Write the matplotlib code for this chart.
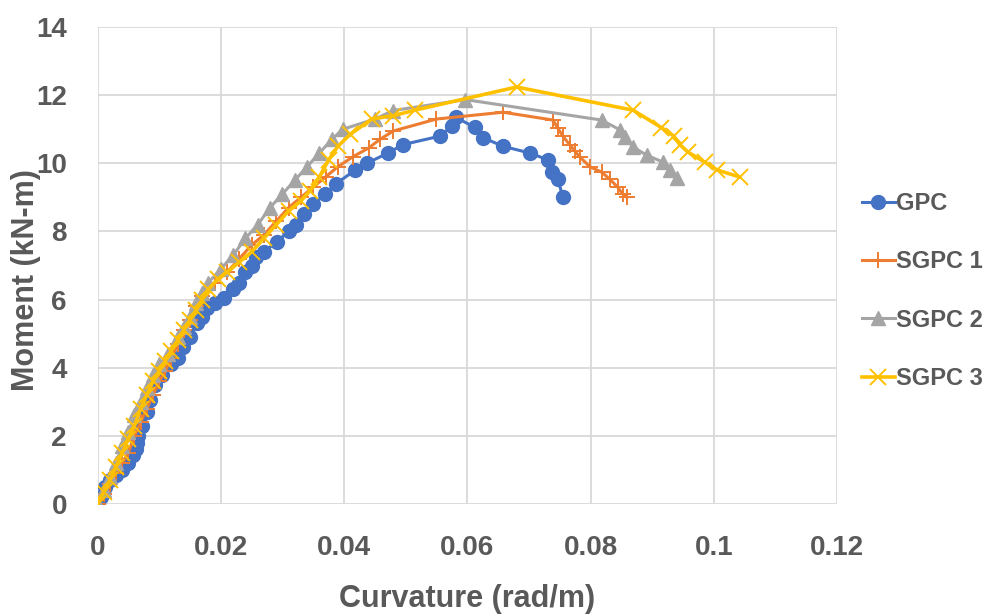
import matplotlib
matplotlib.use("Agg")
import matplotlib.pyplot as plt

plt.rcParams['font.family'] = ['Liberation Sans', 'DejaVu Sans']

# ---- data ----
gpc_x = [0, 0.0005, 0.0012, 0.002, 0.003, 0.004, 0.005, 0.0058, 0.0062, 0.0064, 0.0065,
         0.0072, 0.008, 0.0085, 0.0093, 0.0105, 0.012, 0.013, 0.0139, 0.015, 0.0161,
         0.017, 0.0178, 0.019, 0.0205, 0.022, 0.023, 0.0239, 0.025, 0.0257, 0.027,
         0.0291, 0.031, 0.0322, 0.0335, 0.035, 0.0369, 0.0387, 0.0418, 0.0437, 0.0471,
         0.0496, 0.0556, 0.0575, 0.0581, 0.0612, 0.0626, 0.0658, 0.0702, 0.0731,
         0.0737, 0.0747, 0.0755]
gpc_y = [0, 0.2, 0.5, 0.7, 0.85, 1.0, 1.2, 1.45, 1.6, 1.8, 2.0,
         2.3, 2.7, 3.05, 3.5, 3.8, 4.1, 4.3, 4.6, 4.9, 5.3,
         5.5, 5.75, 5.9, 6.05, 6.3, 6.5, 6.8, 7.0, 7.25, 7.4,
         7.7, 8.0, 8.2, 8.5, 8.8, 9.1, 9.4, 9.8, 10.0, 10.3,
         10.55, 10.8, 11.1, 11.35, 11.06, 10.75, 10.5, 10.3, 10.1,
         9.75, 9.55, 9.0]

sg1_x = [0, 0.001, 0.002, 0.003, 0.004, 0.005, 0.006, 0.007, 0.008, 0.009, 0.010,
         0.011, 0.012, 0.013, 0.014, 0.015, 0.016, 0.017, 0.019, 0.021, 0.023,
         0.025, 0.027, 0.029, 0.031, 0.033, 0.035, 0.037, 0.039, 0.0415, 0.044,
         0.0458, 0.048, 0.055, 0.0658, 0.0739, 0.0747, 0.0755, 0.0766, 0.0774,
         0.0783, 0.0799, 0.0818, 0.0831, 0.0844, 0.0852, 0.0859]
sg1_y = [0, 0.3, 0.6, 0.9, 1.2, 1.5, 2.0, 2.4, 2.8, 3.2, 3.6,
         3.9, 4.3, 4.7, 5.1, 5.4, 5.8, 6.1, 6.5, 6.8, 7.2,
         7.6, 7.9, 8.3, 8.7, 9.0, 9.3, 9.6, 9.9, 10.2, 10.45,
         10.7, 10.95, 11.3, 11.5, 11.27, 11.03, 10.8, 10.55, 10.37,
         10.18, 9.9, 9.74, 9.54, 9.3, 9.1, 9.0]

sg2_x = [0, 0.001, 0.002, 0.003, 0.004, 0.005, 0.006, 0.007, 0.008, 0.009, 0.010,
         0.0115, 0.013, 0.014, 0.015, 0.016, 0.017, 0.018, 0.020, 0.022, 0.024,
         0.026, 0.028, 0.030, 0.032, 0.034, 0.036, 0.038, 0.0398, 0.045, 0.048,
         0.0597, 0.0818, 0.0848, 0.0856, 0.0869, 0.0891, 0.0917, 0.0929, 0.094]
sg2_y = [0, 0.4, 0.8, 1.2, 1.7, 2.1, 2.6, 3.0, 3.4, 3.8, 4.1,
         4.4, 4.9, 5.2, 5.5, 5.9, 6.2, 6.5, 6.9, 7.3, 7.8,
         8.2, 8.7, 9.1, 9.5, 9.9, 10.3, 10.7, 11.0, 11.3, 11.55,
         11.87, 11.27, 10.98, 10.77, 10.48, 10.24, 10.04, 9.8, 9.57]

sg3_x = [0, 0.001, 0.002, 0.003, 0.004, 0.005, 0.006, 0.007, 0.008, 0.009, 0.010,
         0.011, 0.012, 0.013, 0.014, 0.015, 0.016, 0.017, 0.018, 0.0195, 0.021,
         0.023, 0.025, 0.027, 0.029, 0.031, 0.033, 0.0345, 0.036, 0.0375, 0.039,
         0.041, 0.0445, 0.048, 0.0515, 0.068, 0.0869, 0.0915, 0.0935, 0.0945,
         0.0958, 0.0985, 0.1006, 0.1042]
sg3_y = [0, 0.35, 0.7, 1.1, 1.5, 1.9, 2.3, 2.8, 3.2, 3.6, 3.9,
         4.2, 4.5, 4.8, 5.1, 5.4, 5.7, 6.0, 6.3, 6.6, 6.8,
         7.1, 7.4, 7.8, 8.2, 8.6, 8.9, 9.2, 9.6, 10.1, 10.5,
         10.85, 11.3, 11.4, 11.56, 12.24, 11.56, 11.05, 10.8, 10.55,
         10.33, 10.04, 9.8, 9.6]

x_ticks = [0, 0.02, 0.04, 0.06, 0.08, 0.1, 0.12]
x_tick_labels = ['0', '0.02', '0.04', '0.06', '0.08', '0.1', '0.12']
y_ticks = [0, 2, 4, 6, 8, 10, 12, 14]

# ---- figure ----
fig = plt.figure(figsize=(9.9, 6.15), dpi=100)
ax = fig.add_axes([0.0985, 0.1805, 0.747, 0.7755])

txt = '#595959'
ax.plot(gpc_x, gpc_y, color='#4472C4', lw=2.2, marker='o', ms=10,
        mec='#4472C4', mfc='#4472C4', label='GPC', zorder=3)
ax.plot(sg1_x, sg1_y, color='#ED7D31', lw=2.2, marker='+', ms=12, mew=1.4,
        label='SGPC 1', zorder=4)
ax.plot(sg2_x, sg2_y, color='#A5A5A5', lw=2.2, marker='^', ms=10,
        mec='#A5A5A5', mfc='#A5A5A5', label='SGPC 2', zorder=5)
ax.plot(sg3_x, sg3_y, color='#FFC000', lw=2.6, marker='x', ms=11, mew=1.4,
        label='SGPC 3', zorder=6)

ax.set_xlim(0, 0.12)
ax.set_ylim(0, 14)
ax.set_xticks(x_ticks)
ax.set_xticklabels(x_tick_labels)
ax.set_yticks(y_ticks)
ax.grid(True, color='#d9d9d9', lw=1.3)
ax.set_axisbelow(True)
for s in ax.spines.values():
    s.set_visible(False)
ax.tick_params(axis='both', length=0, labelsize=20, labelcolor=txt)
ax.tick_params(axis='x', pad=22)
ax.tick_params(axis='y', pad=22)
for lab in ax.get_xticklabels() + ax.get_yticklabels():
    lab.set_fontweight('bold')

ax.set_xlabel('Curvature (rad/m)', fontsize=22, fontweight='bold', color=txt)
ax.xaxis.set_label_coords(0.5, -0.168)
ax.set_ylabel('Moment (kN-m)', fontsize=22, fontweight='bold', color=txt)
ax.yaxis.set_label_coords(-0.077, 0.47)

leg = fig.legend(loc='center left', bbox_to_anchor=(0.861, 0.527), frameon=False,
                 prop={'size': 17, 'weight': 'bold'},
                 handlelength=1.4, handletextpad=0.05, labelspacing=1.5,
                 borderaxespad=0)
for t in leg.get_texts():
    t.set_color(txt)

fig.savefig('out.png', dpi=100)
